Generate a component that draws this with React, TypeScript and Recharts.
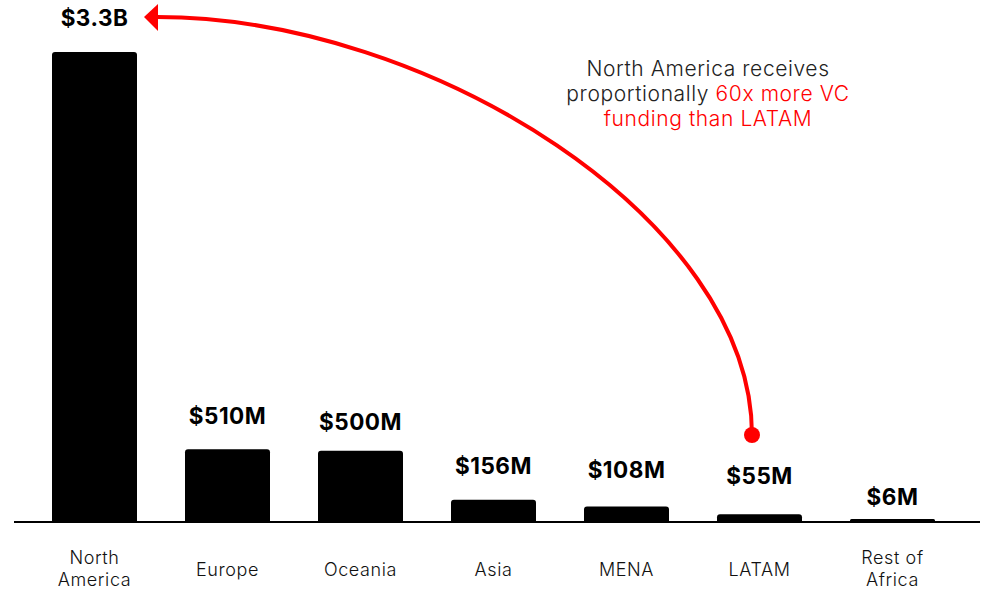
import React from 'react';
import { BarChart, Bar, XAxis, YAxis, LabelList, Customized } from 'recharts';

const categories = ['North America', 'Europe', 'Oceania', 'Asia', 'MENA', 'LATAM', 'Rest of Africa'];
const funding = [3300, 510, 500, 156, 108, 55, 6];
const valueLabels = ['$3.3B', '$510M', '$500M', '$156M', '$108M', '$55M', '$6M'];
const tickLines: string[][] = [['North', 'America'], ['Europe'], ['Oceania'], ['Asia'], ['MENA'], ['LATAM'], ['Rest of', 'Africa']];

// label gap above each bar (style only)
const labelGaps = [26, 25, 21, 26, 29, 30, 14];

const data = categories.map((c, i) => ({ name: c, value: funding[i], label: valueLabels[i] }));

const FONT = 'Inter, "Open Sans", sans-serif';
const RED = '#ff0000';

const CategoryTick = (props: any) => {
  const { x, y, payload } = props;
  const idx = categories.indexOf(payload.value);
  const lines = tickLines[idx] || [payload.value];
  const starts = lines.length === 1 ? [54] : [42, 64];
  return (
    <text textAnchor="middle" fontFamily={FONT} fontSize={18} letterSpacing={0.6} fontWeight={300} fill="#111">
      {lines.map((l, i) => (
        <tspan key={i} x={x} y={y + starts[i]}>{l}</tspan>
      ))}
    </text>
  );
};

const renderValueLabel = (props: any) => {
  const { x, y, width, value, index } = props;
  const i = typeof index === 'number' ? index : valueLabels.indexOf(value);
  return (
    <text
      x={Number(x) + Number(width) / 2}
      y={Number(y) - labelGaps[i]}
      textAnchor="middle"
      fontFamily={FONT}
      fontSize={22.5}
      letterSpacing={0.5}
      fontWeight={700}
      fill="#000"
    >
      {value}
    </text>
  );
};

const Annotation = () => {
  const start = { x: 752, y: 435 };
  const end = { x: 157, y: 17 };
  return (
    <g>
      <path
        d={`M ${start.x} ${start.y} C ${start.x} 220, 430 ${end.y}, ${end.x} ${end.y}`}
        fill="none"
        stroke={RED}
        strokeWidth={4}
      />
      <polygon points={`144,17 158,4 158,31`} fill={RED} />
      <circle cx={start.x} cy={start.y} r={8} fill={RED} />
      <text textAnchor="middle" fontFamily={FONT} fontSize={21} letterSpacing={0.6} fontWeight={300} fill="#222">
        <tspan x={708} y={76}>North America receives</tspan>
        <tspan x={708} y={101}>
          proportionally <tspan fill={RED}>60x more VC</tspan>
        </tspan>
        <tspan x={708} y={126} fill={RED}>funding than LATAM</tspan>
      </text>
    </g>
  );
};

export default function App() {
  return (
    <div style={{ position: 'absolute', left: 0, top: 0, width: 985, height: 590, background: '#fff' }}>
      <BarChart width={985} height={590} data={data} margin={{ top: 52, right: 5, bottom: 8, left: 14 }}>
        <XAxis
          dataKey="name"
          padding={{ left: 14, right: 21 }}
          axisLine={{ stroke: '#000', strokeWidth: 2 }}
          tickLine={false}
          tickSize={0}
          tickMargin={0}
          interval={0}
          height={60}
          tick={<CategoryTick />}
        />
        <YAxis hide domain={[0, 3300]} />
        <Bar dataKey="value" fill="#000" barSize={85} minPointSize={3} radius={[3, 3, 0, 0]} isAnimationActive={false}>
          <LabelList dataKey="label" content={renderValueLabel} />
        </Bar>
        <Customized component={Annotation} />
      </BarChart>
    </div>
  );
}
